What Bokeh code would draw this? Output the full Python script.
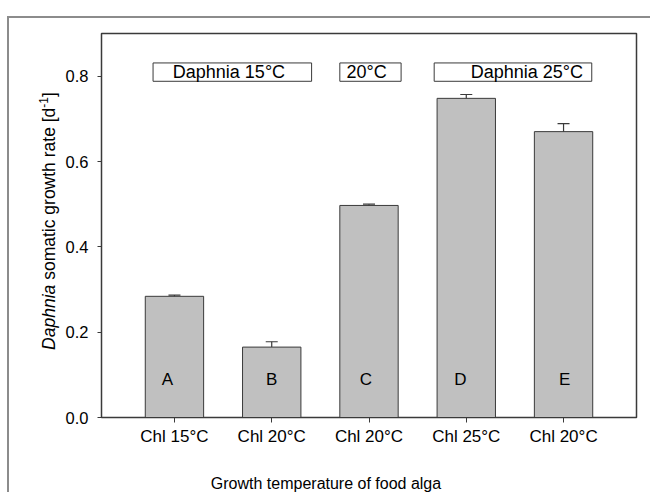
from bokeh.plotting import figure
from bokeh.models import Range1d, FixedTicker, PrintfTickFormatter, Div
from bokeh.layouts import column
from bokeh.embed import file_html
from bokeh.resources import INLINE
from bokeh.core.properties import value

# ---- data ----
categories = ["Chl 15°C", "Chl 20°C", "Chl 20°C", "Chl 25°C", "Chl 20°C"]
letters = ["A", "B", "C", "D", "E"]
growth = [0.284, 0.165, 0.497, 0.748, 0.670]
sem = [0.003, 0.0125, 0.003, 0.009, 0.019]
group_labels = ["Daphnia 15°C", "20°C", "Daphnia 25°C"]
y_ticks = [0.0, 0.2, 0.4, 0.6, 0.8]

# ---- layout / style ----
FONT = "Liberation Sans"
positions = list(range(1, len(growth) + 1))
err_top = [g + e for g, e in zip(growth, sem)]

W, H = 643, 476
ML, MR, MT, MB = 92, 16, 15, 77
YMAX = 0.9

p = figure(width=W, height=H, x_range=Range1d(0.25, 5.75), y_range=Range1d(0, YMAX),
           output_backend="svg", toolbar_location=None,
           min_border_left=ML, min_border_right=MR, min_border_top=MT, min_border_bottom=MB)
p.styles = {"margin-top": "16px", "margin-left": "7px", "margin-bottom": "-12px",
            "border-left": "2px solid #8c8c8c", "border-top": "2px solid #8c8c8c"}
p.xgrid.visible = False
p.ygrid.visible = False
p.outline_line_color = "#3a3a3a"
p.outline_line_width = 1.5
p.background_fill_color = "white"
p.border_fill_color = "white"

# bars
p.vbar(x=positions, top=growth, bottom=0, width=0.6, fill_color="#c0c0c0",
       line_color="#3a3a3a", line_width=1)
# error bars (upper only)
p.segment(x0=positions, y0=growth, x1=positions, y1=err_top, line_color="#3a3a3a", line_width=1.2)
p.scatter(x=positions, y=err_top, marker="dash", size=12, line_color="#3a3a3a", line_width=1.2)

# letters inside bars
p.text(x=positions, y=[0.088] * len(letters), text=letters, x_offset=[-7, 0, -3, -6, 1],
       text_align="center", text_baseline="middle", text_font=value(FONT),
       text_font_size="17px", text_color="black")

# group boxes at top
box_left = [0.78, 2.70, 3.67]
box_right = [2.41, 3.33, 5.29]
p.quad(left=box_left, right=box_right, bottom=0.788, top=0.831, fill_color="white",
       line_color="#3a3a3a", line_width=1)
p.text(x=[0.983, 2.768, 4.046], y=[0.8098] * 3, text=group_labels, text_align="left",
       text_baseline="middle", text_font=value(FONT), text_font_size="18px", text_color="black")

# axes
xa = p.xaxis[0]
xa.ticker = FixedTicker(ticks=positions)
xa.major_label_overrides = {pos: c for pos, c in zip(positions, categories)}
xa.major_label_text_font = FONT
xa.major_label_text_font_size = "17px"
xa.major_label_text_color = "black"
xa.major_tick_out = 5
xa.major_tick_in = 0
xa.minor_tick_out = 0
xa.minor_tick_in = 0
xa.major_label_standoff = 4
xa.axis_line_color = "#3a3a3a"
xa.major_tick_line_color = "#3a3a3a"

ya = p.yaxis[0]
ya.ticker = FixedTicker(ticks=y_ticks)
ya.formatter = PrintfTickFormatter(format="%.1f")
ya.major_label_text_font = FONT
ya.major_label_text_font_size = "16.5px"
ya.major_label_text_color = "black"
ya.major_tick_out = 4
ya.major_tick_in = 0
ya.minor_tick_out = 0
ya.minor_tick_in = 0
ya.major_label_standoff = 9
ya.axis_line_color = "#3a3a3a"
ya.major_tick_line_color = "#3a3a3a"

# x-axis title (placed left of the frame centre, as in the original)
xlab = Div(text="Growth temperature of food alga", width=300, height=20, margin=0,
           styles={"position": "absolute", "left": f"{326 - 150}px", "top": "474px",
                   "font-family": FONT, "font-size": "16px", "color": "black",
                   "text-align": "center", "line-height": "20px", "white-space": "nowrap"})

# y-axis title with italic genus name and superscript
ylab = Div(text='<i>Daphnia</i> somatic growth rate [d<sup style="font-size:12px">-1</sup>]',
           width=300, height=24, margin=0,
           styles={"position": "absolute", "left": f"{44 - 150}px", "top": f"{221 - 12}px",
                   "transform": "rotate(-90deg)", "transform-origin": "50% 50%",
                   "font-family": FONT, "font-size": "17.5px", "color": "black",
                   "text-align": "center", "line-height": "24px", "white-space": "nowrap"})

root = column(p, ylab, xlab)
open("out.html", "w").write(file_html(root, INLINE))
